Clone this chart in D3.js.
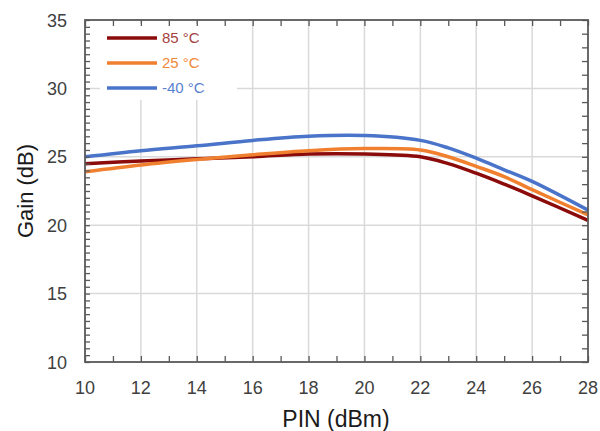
<!DOCTYPE html>
<html>
<head>
<meta charset="utf-8">
<script src="https://cdn.jsdelivr.net/npm/d3@7"></script>
<style>
  html, body { margin: 0; padding: 0; background: #fff; }
  svg { display: block; font-family: "Liberation Sans", Arial, sans-serif; }
</style>
</head>
<body>
<svg id="chart" width="600" height="431"></svg>
<script>
// Input power (dBm)
const pin = [10, 12, 14, 16, 18, 20, 22, 23, 24, 25, 26, 28];
// Gain (dB) per temperature
const gain85 = [24.5, 24.7, 24.85, 25.0, 25.2, 25.2, 25.0, 24.5, 23.8, 23.0, 22.15, 20.35];
const gain25 = [23.9, 24.4, 24.8, 25.15, 25.45, 25.6, 25.5, 25.0, 24.3, 23.55, 22.6, 20.75];
const gainM40 = [25.0, 25.45, 25.8, 26.2, 26.5, 26.55, 26.2, 25.65, 24.9, 24.05, 23.2, 21.1];

const seriesNames = ["85 °C", "25 °C", "-40 °C"];
const seriesColors = ["#8b0a0a", "#f0802f", "#4a74c9"];
const labelColors = ["#a4413f", "#f0883a", "#5a82d0"];
const xTicks = [10, 12, 14, 16, 18, 20, 22, 24, 26, 28];
const yTicks = [10, 15, 20, 25, 30, 35];

const series = [gain85, gain25, gainM40];

const svg = d3.select("#chart");
const m = { left: 85, right: 588, top: 20, bottom: 362 };

const x = d3.scaleLinear().domain([10, 28]).range([m.left, m.right]);
const y = d3.scaleLinear().domain([10, 35]).range([m.bottom, m.top]);

// grid
const grid = svg.append("g").attr("stroke", "#d9d9d9").attr("stroke-width", 1.5);
xTicks.slice(1, -1).forEach(v => {
  grid.append("line").attr("x1", x(v)).attr("x2", x(v)).attr("y1", m.top).attr("y2", m.bottom);
});
yTicks.slice(1, -1).forEach(v => {
  grid.append("line").attr("x1", m.left).attr("x2", m.right).attr("y1", y(v)).attr("y2", y(v));
});

// legend backdrop
svg.append("rect").attr("x", 100).attr("y", 24).attr("width", 137).attr("height", 76).attr("fill", "#fff");

// curves
const line = d3.line().x((d, i) => x(pin[i])).y(d => y(d)).curve(d3.curveCatmullRom.alpha(0.5));
series.forEach((s, k) => {
  svg.append("path").datum(s).attr("d", line)
    .attr("fill", "none").attr("stroke", seriesColors[k]).attr("stroke-width", 3.5)
    .attr("stroke-linejoin", "round");
});

// axes with inward ticks
const axisColor = "#595959";
const axBottom = svg.append("g").attr("transform", `translate(0,${m.bottom})`)
  .call(d3.axisBottom(x).tickValues(d3.range(10, 29, 1)).tickSize(-6).tickFormat(""));
const axTop = svg.append("g").attr("transform", `translate(0,${m.top})`)
  .call(d3.axisTop(x).tickValues(d3.range(10, 29, 1)).tickSize(-6).tickFormat(""));
const axLeft = svg.append("g").attr("transform", `translate(${m.left},0)`)
  .call(d3.axisLeft(y).tickValues(d3.range(10, 35.01, 0.5)).tickSize(-5).tickFormat(""));
const axRight = svg.append("g").attr("transform", `translate(${m.right},0)`)
  .call(d3.axisRight(y).tickValues(d3.range(10, 36, 1)).tickSize(-6).tickFormat(""));
[axBottom, axTop, axLeft, axRight].forEach(g => {
  g.select(".domain").remove();
  g.selectAll(".tick line").attr("stroke", axisColor).attr("stroke-width", 1.3);
});

svg.append("rect").attr("x", m.left).attr("y", m.top)
  .attr("width", m.right - m.left).attr("height", m.bottom - m.top)
  .attr("fill", "none").attr("stroke", axisColor).attr("stroke-width", 1.8);

// tick labels
svg.append("g").selectAll("text").data(xTicks).join("text")
  .attr("x", d => x(d)).attr("y", 393.5).attr("text-anchor", "middle")
  .attr("font-size", 18).attr("fill", "#404040").text(d => d);
svg.append("g").selectAll("text").data(yTicks).join("text")
  .attr("x", 67).attr("y", d => y(d) + 6.5).attr("text-anchor", "end")
  .attr("font-size", 18).attr("fill", "#404040").text(d => d);

// axis titles
svg.append("text").attr("x", 336).attr("y", 427).attr("text-anchor", "middle")
  .attr("font-size", 23).attr("fill", "#1a1a1a").text("PIN (dBm)");
svg.append("text").attr("transform", "translate(33,191) rotate(-90)").attr("text-anchor", "middle")
  .attr("font-size", 22).attr("fill", "#1a1a1a").text("Gain (dB)");

// legend
const lg = svg.append("g");
seriesNames.forEach((name, k) => {
  const ly = 38 + k * 25;
  lg.append("line").attr("x1", 107).attr("x2", 157).attr("y1", ly).attr("y2", ly)
    .attr("stroke", seriesColors[k]).attr("stroke-width", 3.5);
  lg.append("text").attr("x", 162).attr("y", ly + 5.3).attr("font-size", 15)
    .attr("fill", labelColors[k]).text(name);
});
</script>
</body>
</html>
